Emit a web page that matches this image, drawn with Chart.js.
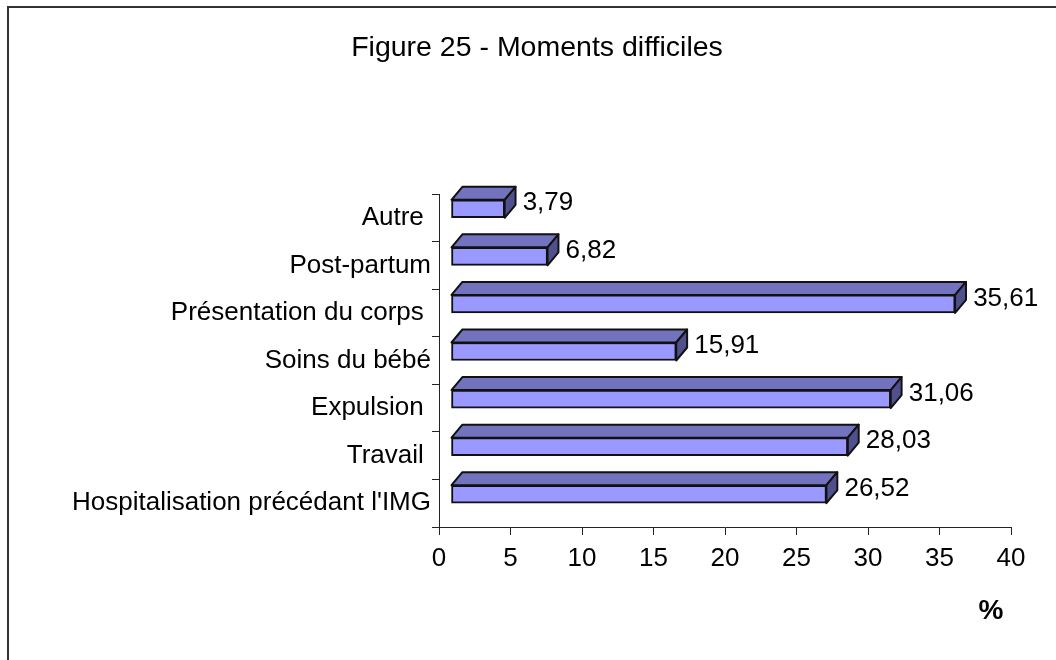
<!DOCTYPE html>
<html>
<head>
<meta charset="utf-8">
<script src="https://cdn.jsdelivr.net/npm/chart.js@4"></script>
<style>
    body { margin: 0; overflow: hidden; background: #fff; }
    canvas { position: absolute; left: 0; top: 0; }
    #frame { position: absolute; left: 7px; top: 6px; width: 1100px; height: 700px; border: 2px solid #333; }
</style>
</head>
<body>
<canvas id="chart" width="1056" height="660"></canvas>
<div id="frame"></div>
<script>
// Categories, top to bottom (trailing spaces are in the original labels)
var categories = [
    'Autre ',
    'Post-partum',
    'Présentation du corps ',
    'Soins du bébé',
    'Expulsion ',
    'Travail ',
    "Hospitalisation précédant l'IMG"
];

// Percentages
var values = [3.79, 6.82, 35.61, 15.91, 31.06, 28.03, 26.52];

// x axis ticks
var xTickValues = [0, 5, 10, 15, 20, 25, 30, 35, 40];

var fontFamily = "'Liberation Sans', Arial, sans-serif";
var frontColor = '#9999FF';
var topColor = '#7272BE';
var sideColor = '#50508C';

// 3D offsets of the bar boxes
var frontDx = 12, frontDy = -9;
var depthDx = 11, depthDy = -13;
var squeeze = 0.99;

function formatValue(v) {
    return v.toFixed(2).replace('.', ',');
}

var bar3d = {
    id: 'bar3d',
    beforeDatasetsDraw: function (chart) {
        var ctx = chart.ctx;
        var x0 = chart.scales.x.getPixelForValue(0);
        ctx.save();
        ctx.translate(x0 + frontDx, frontDy);
        ctx.scale(squeeze, 1);
        ctx.translate(-x0, 0);
    },
    afterDatasetsDraw: function (chart) {
        var ctx = chart.ctx;
        var meta = chart.getDatasetMeta(0);
        ctx.lineWidth = 2;
        ctx.strokeStyle = '#111';
        ctx.lineJoin = 'round';
        meta.data.forEach(function (bar) {
            var left = Math.min(bar.base, bar.x);
            var right = Math.max(bar.base, bar.x);
            var top = bar.y - bar.height / 2;
            var bottom = bar.y + bar.height / 2;

            // top face
            ctx.beginPath();
            ctx.moveTo(left, top);
            ctx.lineTo(left + depthDx, top + depthDy);
            ctx.lineTo(right + depthDx, top + depthDy);
            ctx.lineTo(right, top);
            ctx.closePath();
            ctx.fillStyle = topColor;
            ctx.fill();
            ctx.stroke();

            // side face
            ctx.beginPath();
            ctx.moveTo(right, top);
            ctx.lineTo(right + depthDx, top + depthDy);
            ctx.lineTo(right + depthDx, bottom + depthDy);
            ctx.lineTo(right, bottom);
            ctx.closePath();
            ctx.fillStyle = sideColor;
            ctx.fill();
            ctx.stroke();
        });
        ctx.restore();

        // value labels
        var x0 = chart.scales.x.getPixelForValue(0);
        ctx.save();
        ctx.font = '26px ' + fontFamily;
        ctx.fillStyle = '#000';
        ctx.textAlign = 'left';
        ctx.textBaseline = 'middle';
        meta.data.forEach(function (bar, i) {
            var right = x0 + frontDx + squeeze * (bar.x - x0) + depthDx;
            ctx.fillText(formatValue(values[i]), right + 7, bar.y + frontDy + depthDy / 2 + 1);
        });
        ctx.restore();
    },
    afterDraw: function (chart) {
        // unit label under the x axis
        var ctx = chart.ctx;
        ctx.save();
        ctx.font = 'bold 28px ' + fontFamily;
        ctx.fillStyle = '#000';
        ctx.textAlign = 'center';
        ctx.textBaseline = 'middle';
        ctx.fillText('%', chart.chartArea.right - 20, chart.chartArea.bottom + 84);
        ctx.restore();
    }
};

var ctx = document.getElementById('chart').getContext('2d');
var chart = new Chart(ctx, {
    type: 'bar',
    data: {
        labels: categories,
        datasets: [{
            data: values,
            backgroundColor: frontColor,
            borderColor: '#111',
            borderWidth: 2,
            borderSkipped: false,
            barThickness: 18,
            clip: false
        }]
    },
    options: {
        indexAxis: 'y',
        responsive: false,
        animation: false,
        layout: {
            padding: { left: 63, right: 45, top: 0, bottom: 83 }
        },
        plugins: {
            legend: { display: false },
            tooltip: { enabled: false },
            title: {
                display: true,
                text: 'Figure 25 - Moments difficiles',
                color: '#000',
                font: { family: fontFamily, size: 28.5, weight: 'normal' },
                padding: { top: 31, bottom: 128.8 }
            }
        },
        scales: {
            x: {
                min: 0,
                max: 40,
                afterBuildTicks: function (scale) {
                    scale.ticks = xTickValues.map(function (v) { return { value: v }; });
                },
                afterFit: function (scale) { scale.height = 50; },
                border: { display: true, color: '#222', width: 1 },
                grid: { drawOnChartArea: false, drawTicks: true, tickLength: 8, color: '#222' },
                ticks: {
                    color: '#000',
                    padding: 8,
                    maxRotation: 0,
                    font: { family: fontFamily, size: 26 }
                }
            },
            y: {
                afterFit: function (scale) { scale.width = 376; },
                border: { display: true, color: '#222', width: 1 },
                grid: { drawOnChartArea: false, drawTicks: true, tickLength: 7, color: '#222', offset: true },
                ticks: {
                    color: '#000',
                    padding: 1,
                    autoSkip: false,
                    font: { family: fontFamily, size: 26 }
                }
            }
        }
    },
    plugins: [bar3d]
});
</script>
</body>
</html>
